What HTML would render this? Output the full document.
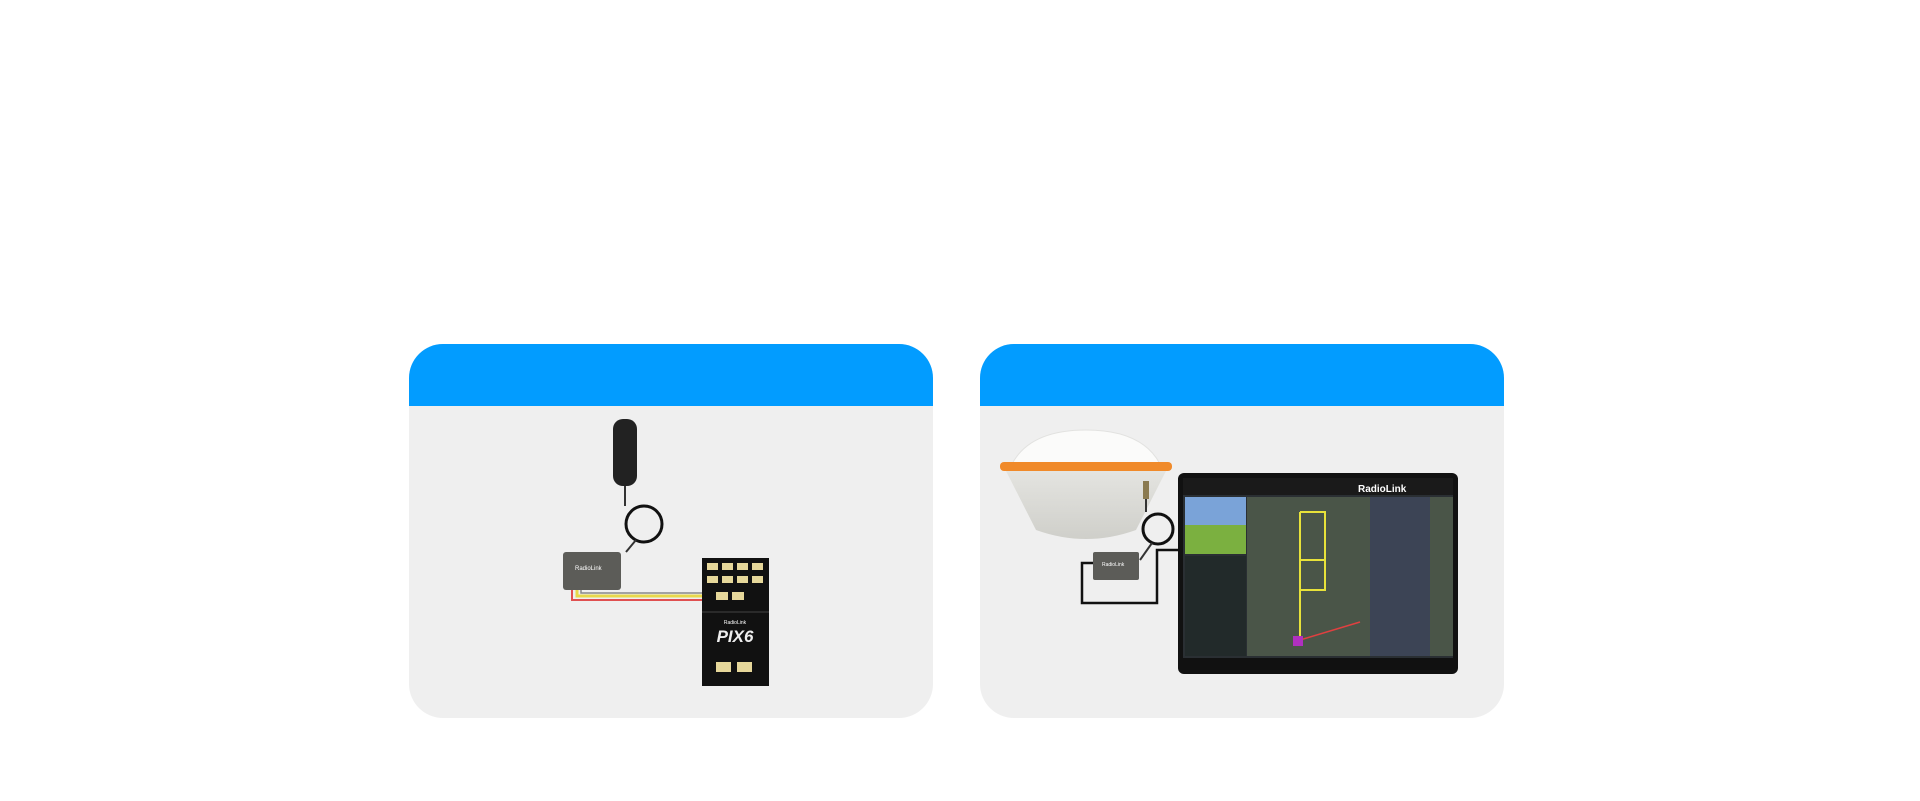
<!DOCTYPE html>
<html><head><meta charset="utf-8"><style>
body{margin:0;width:1920px;height:801px;background:#fff;position:relative;overflow:hidden;font-family:"Liberation Sans",sans-serif}
.card{position:absolute;top:344px;width:524px;height:374px;background:#efefef;border-radius:34px;overflow:hidden}
.hd{position:absolute;left:0;top:0;width:100%;height:62px;background:#029cff}
</style></head><body>
<div class="card" style="left:409px"><div class="hd"></div></div>
<div class="card" style="left:980px"><div class="hd"></div></div>
<svg width="1920" height="801" style="position:absolute;left:0;top:0">
<defs><linearGradient id="dm" x1="0" y1="0" x2="0" y2="1"><stop offset="0" stop-color="#e4e4e0"/><stop offset="1" stop-color="#cfcfca"/></linearGradient></defs>
<!-- left card -->
<rect x="613" y="419" width="24" height="67" rx="10" fill="#222"/>
<line x1="625" y1="486" x2="625" y2="506" stroke="#333" stroke-width="2"/>
<circle cx="644" cy="524" r="18" fill="none" stroke="#111" stroke-width="3"/>
<path d="M636 540 L626 552" stroke="#333" stroke-width="2" fill="none"/>
<rect x="563" y="552" width="58" height="38" rx="3" fill="#5c5c58"/>
<text x="575" y="570" font-size="6" fill="#fff">RadioLink</text>
<path d="M572 590 V600 H730" stroke="#e05050" stroke-width="2" fill="none"/>
<path d="M577 590 V596 H730" stroke="#e8d84a" stroke-width="3" fill="none"/>
<path d="M581 590 V593 H730" stroke="#888" stroke-width="1.5" fill="none"/>
<rect x="702" y="558" width="67" height="128" fill="#111"/>
<g fill="#e6d79a">
<rect x="707" y="563" width="11" height="7"/><rect x="722" y="563" width="11" height="7"/><rect x="737" y="563" width="11" height="7"/><rect x="752" y="563" width="11" height="7"/>
<rect x="707" y="576" width="11" height="7"/><rect x="722" y="576" width="11" height="7"/><rect x="737" y="576" width="11" height="7"/><rect x="752" y="576" width="11" height="7"/>
<rect x="716" y="592" width="12" height="8"/><rect x="732" y="592" width="12" height="8"/>
<rect x="716" y="662" width="15" height="10"/><rect x="737" y="662" width="15" height="10"/>
</g>
<line x1="702" y1="612" x2="769" y2="612" stroke="#444"/>
<text x="735" y="642" font-size="17" font-weight="bold" fill="#eee" text-anchor="middle" font-style="italic">PIX6</text>
<text x="735" y="624" font-size="5" fill="#fff" text-anchor="middle">RadioLink</text>
<!-- right card -->
<path d="M1012 464 Q1030 430 1086 430 Q1142 430 1160 464 Z" fill="#fbfbfa" stroke="#e2e2e0"/>
<rect x="1000" y="462" width="172" height="9" rx="4" fill="#f08a2a"/>
<path d="M1006 471 H1166 L1136 530 Q1086 548 1036 530 Z" fill="url(#dm)"/>
<rect x="1143" y="481" width="6" height="18" fill="#8a7a50"/>
<line x1="1146" y1="499" x2="1146" y2="512" stroke="#333" stroke-width="2"/>
<circle cx="1158" cy="529" r="15" fill="none" stroke="#111" stroke-width="3"/>
<path d="M1152 543 L1140 560" stroke="#333" stroke-width="2" fill="none"/>
<path d="M1097 563 H1082 V603 H1157 V550 H1178" stroke="#111" stroke-width="2.5" fill="none"/>
<rect x="1093" y="552" width="46" height="28" rx="2" fill="#5c5c58"/>
<text x="1102" y="566" font-size="5" fill="#fff">RadioLink</text>
<rect x="1178" y="473" width="280" height="201" rx="6" fill="#111"/>
<rect x="1183" y="478" width="270" height="180" fill="#2a2f33"/>
<rect x="1183" y="478" width="270" height="17" fill="#1a1a1a"/>
<text x="1358" y="492" font-size="10" font-weight="bold" fill="#fff">RadioLink</text>
<rect x="1185" y="497" width="61" height="57" fill="#7aa3d8"/>
<rect x="1185" y="525" width="61" height="29" fill="#7bb040"/>
<rect x="1185" y="556" width="61" height="100" fill="#222a2a"/>
<rect x="1247" y="497" width="206" height="159" fill="#4a5548"/>
<rect x="1370" y="497" width="60" height="159" fill="#3c4455"/>
<path d="M1300 512 H1325 V590 H1300 V512 M1300 560 H1325 M1300 590 V640" stroke="#e8e23a" stroke-width="2" fill="none"/>
<path d="M1300 640 L1360 622" stroke="#e04040" stroke-width="1.5"/>
<rect x="1293" y="636" width="10" height="10" fill="#b030c0"/>
</svg>
</body></html>
